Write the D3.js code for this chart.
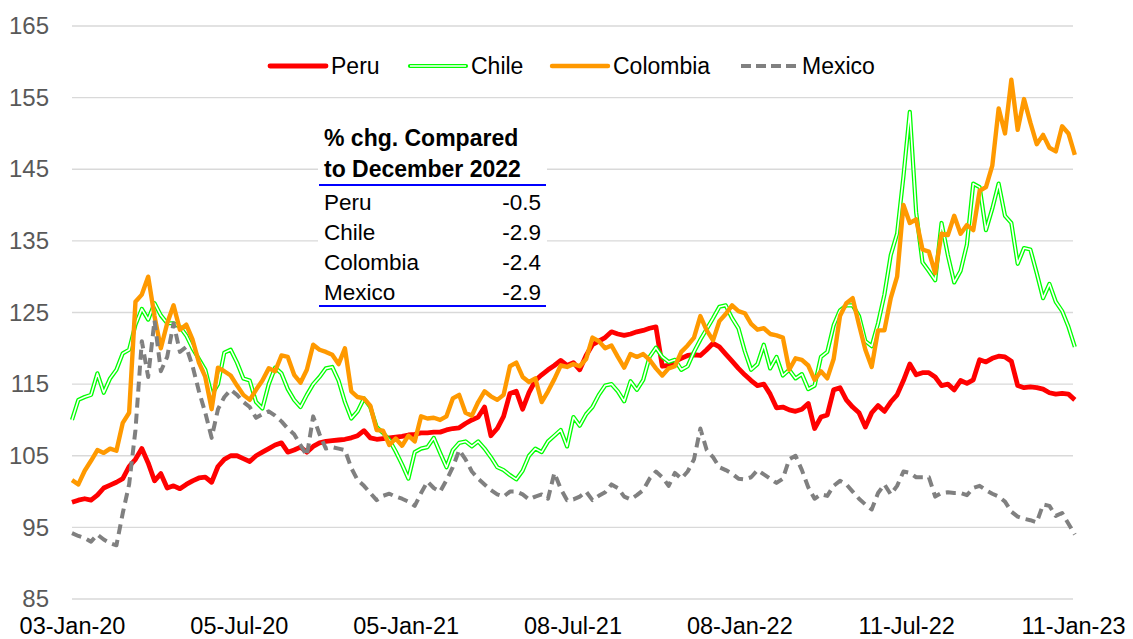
<!DOCTYPE html>
<html>
<head>
<meta charset="utf-8">
<script src="https://cdn.jsdelivr.net/npm/d3@7"></script>
<style>
	body{margin:0;background:#fff;}
	text{font-family:Arial,"Liberation Sans",sans-serif;}
</style>
</head>
<body>
<svg id="chart" width="1133" height="639"></svg>
<script>
// weekly observations, first one on 03-Jan-2020
var firstDay = new Date(Date.UTC(2020,0,3));

var peru = [
	98.5,98.8,99.0,98.8,99.5,100.5,100.9,101.3,101.8,103.5,
	104.5,106.0,104.0,101.5,102.5,100.5,100.8,100.4,101.0,101.5,
	101.9,102.0,101.3,103.5,104.5,105.0,105.0,104.6,104.2,105.0,
	105.5,106.0,106.5,106.8,105.5,105.8,106.2,105.5,106.3,106.8,
	107.0,107.1,107.2,107.3,107.5,107.8,108.5,107.5,107.3,107.4,
	107.5,107.6,107.7,107.9,108.0,108.2,108.2,108.3,108.3,108.6,
	108.8,108.9,109.5,110.0,110.4,111.8,107.8,108.8,110.5,113.7,
	114.0,111.5,113.8,115.5,116.3,117.0,117.6,118.3,117.6,118.0,
	117.0,119.0,120.5,121.0,121.5,122.3,122.0,121.8,122.0,122.3,
	122.5,122.8,123.0,117.5,117.6,118.2,118.6,119.0,119.1,119.0,
	119.8,120.7,120.2,119.2,118.2,117.2,116.3,115.5,114.8,115.0,
	113.6,111.7,111.8,111.4,111.2,111.5,112.3,108.8,110.4,110.7,
	114.2,114.5,112.8,111.8,111.0,109.0,111.0,112.0,111.2,112.5,
	113.5,115.5,117.8,116.3,116.6,116.6,116.0,114.8,115.0,114.2,
	115.5,115.1,115.6,118.4,118.1,118.6,118.9,118.8,118.2,114.8,
	114.5,114.6,114.5,114.3,113.8,113.6,113.7,113.6,112.8
];
var chile = [
	110.0,112.8,113.2,113.5,116.5,113.8,115.8,117.0,119.3,119.8,
	123.3,125.5,124.0,126.3,124.6,123.5,123.5,123.0,121.8,120.0,
	118.5,117.0,113.5,115.0,119.4,119.8,118.0,115.8,115.5,112.5,
	111.6,115.0,117.3,116.5,114.3,112.8,111.8,113.5,115.0,116.0,
	117.2,117.4,115.5,112.5,110.2,111.2,113.0,111.8,109.0,108.2,
	107.2,105.6,103.8,101.8,105.5,106.0,106.2,107.5,105.4,103.4,
	105.8,106.8,107.0,106.3,107.0,106.0,104.8,103.4,103.0,102.3,
	101.7,102.9,105.0,106.0,105.5,107.0,107.8,108.6,106.3,110.4,
	109.2,110.8,111.8,113.5,114.8,115.0,114.0,112.6,115.4,114.2,
	115.6,118.8,120.1,118.8,118.1,118.4,117.0,117.5,119.5,121.2,
	122.7,124.2,125.8,126.0,124.2,122.8,119.6,117.0,117.8,120.5,
	117.2,118.8,116.2,117.0,115.8,116.4,114.3,114.8,118.8,119.5,
	123.2,125.3,126.0,126.0,124.5,121.0,120.3,123.5,127.5,133.0,
	136.0,144.0,153.0,139.0,132.0,130.8,129.5,137.5,133.0,129.2,
	130.8,134.5,143.0,142.5,136.5,139.5,143.0,138.5,137.5,131.8,
	134.0,133.8,130.5,127.0,129.0,126.5,125.2,123.0,120.2
];
var colombia = [
	101.6,101.0,102.9,104.3,105.8,105.4,106.0,105.7,109.6,111.0,
	126.5,127.5,130.0,124.5,120.0,123.5,126.0,122.6,123.3,121.2,
	118.0,116.0,111.5,117.3,116.8,116.2,114.8,113.5,112.8,114.2,
	115.5,117.2,116.8,119.0,118.8,116.3,115.2,117.0,120.5,119.8,
	119.5,119.1,117.8,120.0,114.0,113.2,113.0,112.0,108.6,108.5,
	106.5,107.4,106.4,107.8,107.0,110.5,110.2,110.3,110.0,110.5,
	113.0,113.5,111.0,110.6,112.5,114.0,113.3,112.8,113.5,117.5,
	118.0,116.0,115.3,115.8,112.5,114.0,115.7,117.6,117.4,117.8,
	117.5,118.5,121.5,121.0,120.0,120.4,118.8,117.3,119.2,118.8,
	119.2,118.4,117.2,116.2,117.2,117.5,119.5,120.4,121.5,124.5,
	122.5,121.1,123.8,124.8,126.0,125.2,124.9,123.4,122.6,122.8,
	122.0,121.8,121.5,117.0,118.6,118.4,117.6,115.6,116.8,115.8,
	118.5,124.5,126.3,127.0,123.3,119.8,117.4,122.5,122.5,127.0,
	130.0,140.0,137.5,138.0,133.8,133.5,130.5,136.0,135.8,138.5,
	136.0,137.2,136.5,142.0,142.5,145.5,153.5,150.0,157.5,150.5,
	154.8,151.5,148.5,149.8,148.0,147.5,151.0,150.0,147.0
];
var mexico = [
	94.2,93.8,93.5,93.0,94.0,93.3,92.8,92.5,97.0,101.0,
	108.6,121.0,116.0,123.9,116.8,118.8,123.5,119.5,120.2,117.5,
	114.0,111.0,107.5,111.5,113.2,114.2,113.5,112.5,111.8,110.3,
	110.8,111.2,110.6,109.8,108.8,108.0,106.5,105.0,110.5,108.0,
	106.0,106.2,106.0,105.8,103.3,101.6,100.8,99.8,98.8,99.4,
	99.7,99.3,99.0,98.6,98.0,99.8,101.4,100.5,100.0,101.6,
	103.4,105.8,104.5,102.8,101.8,101.0,100.2,99.6,99.3,100.0,
	100.0,99.6,98.9,99.3,99.6,99.0,102.6,100.4,98.8,98.9,
	99.3,100.0,98.8,99.4,99.9,101.0,100.5,99.3,98.9,99.5,
	100.2,101.8,102.8,102.0,100.8,102.6,101.8,102.8,104.5,108.8,
	105.8,104.8,103.4,103.0,102.5,101.8,101.7,102.0,103.0,102.4,
	101.8,101.2,101.8,104.5,105.0,103.0,100.6,99.0,99.6,99.4,
	100.8,101.5,101.0,100.0,99.0,98.2,97.5,99.8,101.0,99.6,
	100.8,102.8,102.6,102.0,102.0,102.0,99.3,99.8,99.9,99.8,
	99.8,99.5,100.5,100.8,100.2,99.7,99.3,98.6,97.2,96.5,
	96.2,96.0,95.7,98.2,98.0,96.6,97.0,95.5,94.0
];

var seriesNames = ["Peru","Chile","Colombia","Mexico"];
var tickDates = ["2020-01-03","2020-07-05","2021-01-05","2021-07-08","2022-01-08","2022-07-11","2023-01-11"];
var yTicks = [85,95,105,115,125,135,145,155,165];
var tableTitle = ["% chg. Compared","to December 2022"];
var tableValues = ["-0.5","-2.9","-2.4","-2.9"];

var svg = d3.select("#chart");
var fmt = d3.utcFormat("%d-%b-%y");

var x = d3.scaleUtc()
	.domain([firstDay, new Date(Date.UTC(2023,0,11))])
	.range([72,1073]);
var y = d3.scaleLinear().domain([85,165]).range([599,26]);

// grid
svg.append("g").selectAll("line").data(yTicks).enter().append("line")
	.attr("x1",72).attr("x2",1073)
	.attr("y1",function(d){return y(d);}).attr("y2",function(d){return y(d);})
	.attr("stroke","#d9d9d9").attr("stroke-width",1.3);

// y axis
var yAxis = d3.axisLeft(y).tickValues(yTicks).tickSize(0).tickPadding(0);
var gy = svg.append("g").attr("transform","translate(49,0)").call(yAxis);
gy.select(".domain").remove();
gy.selectAll("text").attr("font-size",24).attr("fill","#595959")
	.attr("font-family","Arial, Liberation Sans, sans-serif");

// x axis
var xAxis = d3.axisBottom(x).tickValues(tickDates.map(function(s){return new Date(s+"T00:00:00Z");}))
	.tickFormat(fmt).tickSize(0).tickPadding(0);
var gx = svg.append("g").attr("transform","translate(0,617)").call(xAxis);
gx.select(".domain").remove();
gx.selectAll("text").attr("font-size",23.5).attr("fill","#000").attr("dy","0.71em")
	.attr("font-family","Arial, Liberation Sans, sans-serif");

function toPoints(arr){
	return arr.map(function(v,i){return {date:d3.utcDay.offset(firstDay,7*i), v:v};});
}
var line = d3.line().x(function(d){return x(d.date);}).y(function(d){return y(d.v);});

var styles = {
	Peru:{color:"#ff0000",w:4.8},
	Chile:{color:"#00ff00",w:4.2},
	Colombia:{color:"#ff9900",w:4.4},
	Mexico:{color:"#808080",w:4,dash:"10,6"}
};
var data = {Peru:peru,Chile:chile,Colombia:colombia,Mexico:mexico};

var gl = svg.append("g").attr("fill","none").attr("stroke-linejoin","round");
seriesNames.forEach(function(name){
	var s = styles[name];
	var p = gl.append("path").datum(toPoints(data[name]))
		.attr("d",line).attr("stroke",s.color).attr("stroke-width",s.w);
	if(s.dash) p.attr("stroke-dasharray",s.dash);
	if(name=="Chile"){
		gl.append("path").datum(toPoints(data[name]))
			.attr("d",line).attr("stroke","#fff").attr("stroke-width",1.6);
	}
});

// legend
var legX = [270,410,552,741];
var leg = svg.append("g");
seriesNames.forEach(function(name,i){
	var s = styles[name];
	var l = leg.append("line").attr("x1",legX[i]).attr("x2",legX[i]+56)
		.attr("y1",66).attr("y2",66).attr("stroke",s.color).attr("stroke-width",s.w)
		.attr("stroke-linecap","round");
	if(s.dash) l.attr("stroke-dasharray","10,5").attr("stroke-linecap","butt");
	if(name=="Chile"){
		leg.append("line").attr("x1",legX[i]).attr("x2",legX[i]+56)
			.attr("y1",66).attr("y2",66).attr("stroke","#fff").attr("stroke-width",1.6);
	}
	leg.append("text").attr("x",legX[i]+61).attr("y",74)
		.attr("font-size",23).attr("fill","#000").text(name);
});

// table
var tb = svg.append("g");
tb.append("rect").attr("x",318).attr("y",118).attr("width",229).attr("height",190).attr("fill","#fff");
tb.selectAll("text.title").data(tableTitle).enter().append("text")
	.attr("x",324).attr("y",function(d,i){return 146+i*31;})
	.attr("font-size",23).attr("font-weight","bold").text(function(d){return d;});
tb.append("line").attr("x1",319).attr("x2",546).attr("y1",185).attr("y2",185)
	.attr("stroke","#0000ff").attr("stroke-width",2);
seriesNames.forEach(function(name,i){
	tb.append("text").attr("x",324).attr("y",210+i*30).attr("font-size",22.5).text(name);
	tb.append("text").attr("x",541).attr("y",210+i*30).attr("font-size",22.5)
		.attr("text-anchor","end").text(tableValues[i]);
});
tb.append("line").attr("x1",319).attr("x2",546).attr("y1",306).attr("y2",306)
	.attr("stroke","#0000ff").attr("stroke-width",2);
</script>
</body>
</html>
